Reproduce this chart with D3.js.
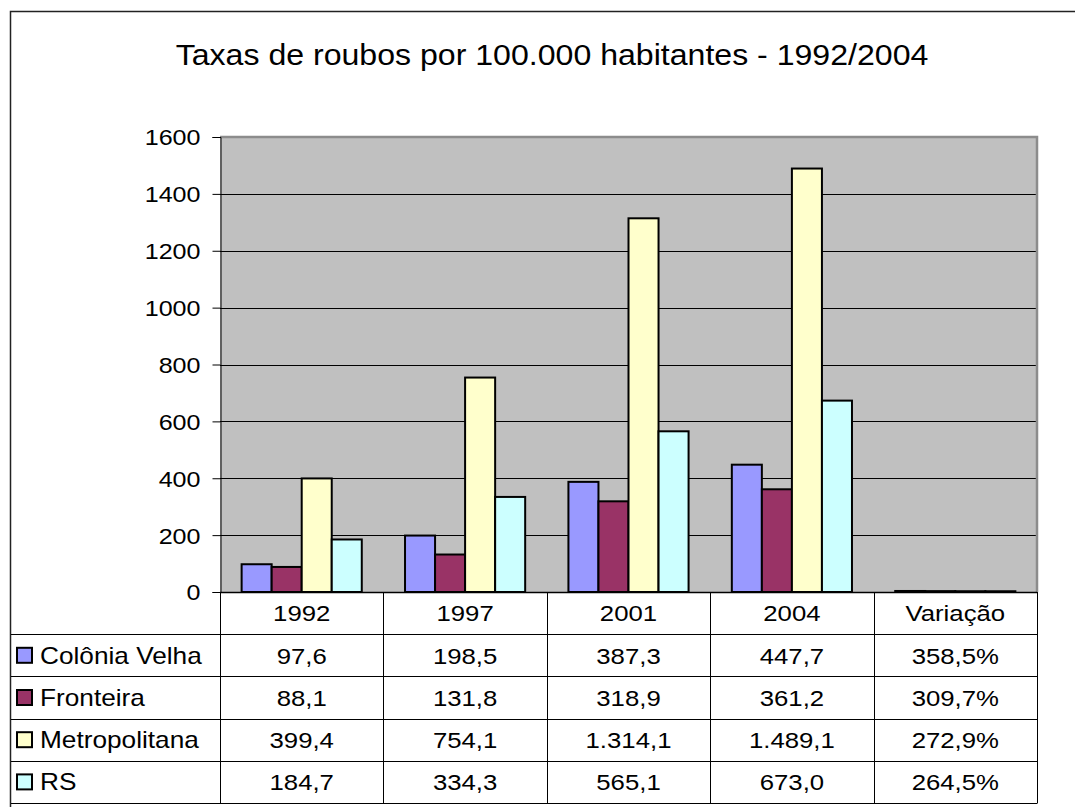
<!DOCTYPE html>
<html>
<head>
<meta charset="utf-8">
<script src="https://cdn.jsdelivr.net/npm/d3@7"></script>
<style>
  body { margin: 0; background: #fff; }
  text { font-family: "Liberation Sans", Arial, sans-serif; fill: #000; }
</style>
</head>
<body>
<div id="chart"></div>
<script>
// categories on the x axis (last one is the variation column)
const categories = ["1992", "1997", "2001", "2004", "Variação"];
const seriesNames = ["Colônia Velha", "Fronteira", "Metropolitana", "RS"];
const seriesColors = ["#9999FF", "#993366", "#FFFFCC", "#CCFFFF"];

// rates per 100.000 inhabitants, last value = variation in %
const coloniaVelha = [97.6, 198.5, 387.3, 447.7, 358.5];
const fronteira = [88.1, 131.8, 318.9, 361.2, 309.7];
const metropolitana = [399.4, 754.1, 1314.1, 1489.1, 272.9];
const rs = [184.7, 334.3, 565.1, 673.0, 264.5];
const yTicks = [0, 200, 400, 600, 800, 1000, 1200, 1400, 1600];

const seriesValues = [coloniaVelha, fronteira, metropolitana, rs];

const W = 1075, H = 807;
const plot = { left: 220, right: 1037, top: 137, bottom: 592 };
const rowH = 42.2;

const svg = d3.select("#chart").append("svg")
    .attr("width", W)
    .attr("height", H);

// text in the original is a bit wider than tall, stretch horizontally
function label(g, x, y, txt, size, anchor, sx) {
    return g.append("text")
        .attr("transform", `translate(${x},${y}) scale(${sx},1)`)
        .attr("dy", "0.36em")
        .attr("text-anchor", anchor)
        .style("font-size", size + "px")
        .text(txt);
}

// outer chart frame
svg.append("rect")
    .attr("x", 10.5).attr("y", 11.5)
    .attr("width", 1200).attr("height", 1000)
    .attr("fill", "none")
    .attr("stroke", "#222")
    .attr("stroke-width", 1.5);

// title
svg.append("text")
    .attr("transform", "translate(552,65) scale(1.07,1)")
    .attr("text-anchor", "middle")
    .style("font-size", "30px")
    .text("Taxas de roubos por 100.000 habitantes - 1992/2004");

const x0 = d3.scaleBand()
    .domain(categories)
    .range([plot.left, plot.right])
    .paddingInner(0).paddingOuter(0);

const x1 = d3.scaleBand()
    .domain(seriesNames)
    .range([0, x0.bandwidth()])
    .paddingInner(0).paddingOuter(0.72);

const y = d3.scaleLinear()
    .domain([0, 1600])
    .range([plot.bottom, plot.top]);

// plot background
svg.append("rect")
    .attr("x", plot.left).attr("y", plot.top)
    .attr("width", plot.right - plot.left)
    .attr("height", plot.bottom - plot.top)
    .attr("fill", "#C0C0C0");

// gridlines
svg.append("g")
    .selectAll("line")
    .data(yTicks.filter(d => d > 0 && d < 1600))
    .enter().append("line")
    .attr("x1", plot.left).attr("x2", plot.right)
    .attr("y1", d => Math.round(y(d)) + 0.5)
    .attr("y2", d => Math.round(y(d)) + 0.5)
    .attr("stroke", "#000").attr("stroke-width", 1);

// plot border top/right (gray)
svg.append("path")
    .attr("d", `M${plot.left},${plot.top} H${plot.right} V${plot.bottom}`)
    .attr("fill", "none")
    .attr("stroke", "#8c8c8c")
    .attr("stroke-width", 2.5);

// bars
const barData = [];
seriesNames.forEach((s, i) => {
    categories.forEach((c, j) => {
        // the variation column is plotted as a fraction (358,5% -> 3,585)
        const v = c === "Variação" ? seriesValues[i][j] / 100 : seriesValues[i][j];
        barData.push({ series: s, cat: c, value: v, color: seriesColors[i] });
    });
});

svg.append("g")
    .selectAll("rect")
    .data(barData)
    .enter().append("rect")
    .attr("x", d => x0(d.cat) + x1(d.series))
    .attr("y", d => y(d.value))
    .attr("width", x1.bandwidth())
    .attr("height", d => y(0) - y(d.value))
    .attr("fill", d => d.color)
    .attr("stroke", "#000")
    .attr("stroke-width", 2);

// y axis
const yAxis = svg.append("g")
    .attr("transform", `translate(${plot.left + 0.5},0)`)
    .call(d3.axisLeft(y).tickValues(yTicks).tickSize(8).tickFormat(""));
yAxis.select(".domain").attr("stroke", "#000");
yAxis.selectAll(".tick line").attr("stroke", "#000");
yAxis.selectAll(".tick").each(function (d) {
    label(d3.select(this), -20, 0, d3.format("d")(d), 22, "end", 1.14);
});

// data table
const ptBR = d3.formatLocale({ decimal: ",", thousands: ".", grouping: [3], currency: ["R$", ""] });
const fmtNum = ptBR.format(",.1f");
const fmtPct = v => ptBR.format(".1f")(v) + "%";

const table = svg.append("g");
const tableBottom = plot.bottom + rowH * 5;

// horizontal lines
table.selectAll("line.h")
    .data(d3.range(1, 6))
    .enter().append("line")
    .attr("x1", 11).attr("x2", plot.right)
    .attr("y1", i => Math.round(plot.bottom + i * rowH) + 0.5)
    .attr("y2", i => Math.round(plot.bottom + i * rowH) + 0.5)
    .attr("stroke", "#000");

// top line of table under the plot
table.append("line")
    .attr("x1", plot.left).attr("x2", plot.right)
    .attr("y1", plot.bottom + 0.5).attr("y2", plot.bottom + 0.5)
    .attr("stroke", "#000").attr("stroke-width", 1.5);

// vertical lines
const vLines = categories.map(c => x0(c)).concat([plot.right]);
table.selectAll("line.v")
    .data(vLines)
    .enter().append("line")
    .attr("x1", d => Math.round(d) + 0.5).attr("x2", d => Math.round(d) + 0.5)
    .attr("y1", plot.bottom).attr("y2", Math.round(tableBottom) + 0.5)
    .attr("stroke", "#000");

// header row
categories.forEach(c => {
    label(table, x0(c) + x0.bandwidth() / 2, plot.bottom + rowH / 2, c, 23, "middle", 1.12);
});

// value rows
seriesNames.forEach((s, i) => {
    const cy = plot.bottom + rowH * (i + 1) + rowH / 2;
    // legend key
    table.append("rect")
        .attr("x", 17).attr("y", cy - 7.5)
        .attr("width", 15).attr("height", 15)
        .attr("fill", seriesColors[i])
        .attr("stroke", "#000").attr("stroke-width", 2);
    label(table, 40, cy, s, 23, "start", 1.14);
    categories.forEach((c, j) => {
        const v = seriesValues[i][j];
        label(table, x0(c) + x0.bandwidth() / 2, cy,
            c === "Variação" ? fmtPct(v) : fmtNum(v), 23, "middle", 1.12);
    });
});
</script>
</body>
</html>
